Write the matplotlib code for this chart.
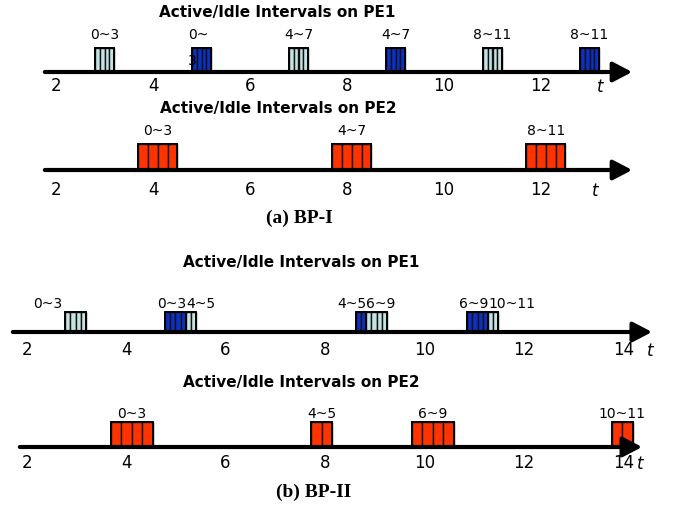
import matplotlib
matplotlib.use('Agg')
import matplotlib.pyplot as plt

# (a) BP-I
a_pe1_start = [2.8, 4.8, 6.8, 8.8, 10.8, 12.8]
a_pe1_count = [4, 4, 4, 4, 4, 4]
a_pe1_kind = ['idle', 'active', 'idle', 'active', 'idle', 'active']
a_pe1_label = ['0~3', '0~\n3', '4~7', '4~7', '8~11', '8~11']

a_pe2_start = [3.7, 7.7, 11.7]
a_pe2_count = [4, 4, 4]
a_pe2_kind = ['busy', 'busy', 'busy']
a_pe2_label = ['0~3', '4~7', '8~11']

a_ticks = [2, 4, 6, 8, 10, 12]

# (b) BP-II
b_pe1_start = [2.77, 4.78, 5.20, 8.62, 8.83, 10.86, 11.28]
b_pe1_count = [4, 4, 2, 2, 4, 4, 2]
b_pe1_kind = ['idle', 'active', 'idle', 'active', 'idle', 'active', 'idle']
b_pe1_label = ['0~3', '0~3', '4~5', '4~5', '6~9', '6~9', '10~11']
b_pe1_ha = ['right', 'right', 'left', 'right', 'left', 'right', 'left']

b_pe2_start = [3.69, 7.72, 9.75, 13.77]
b_pe2_count = [4, 2, 4, 2]
b_pe2_kind = ['busy', 'busy', 'busy', 'busy']
b_pe2_label = ['0~3', '4~5', '6~9', '10~11']

b_ticks = [2, 4, 6, 8, 10, 12, 14]

colores = {'idle': '#c6e3e3', 'active': '#0c2fc4', 'busy': '#ff3300'}

W, H = 678, 514


def dibujar_eje(ax, t0, t1, y, ticks, t_label, y_ticks):
    ax.annotate('', xy=(t1, y), xytext=(t0, y),
                arrowprops=dict(arrowstyle='-|>,head_length=1.15,head_width=0.6',
                                lw=3, color='black', mutation_scale=10,
                                shrinkA=0, shrinkB=0), zorder=5)
    for t in ticks:
        ax.text(t, y_ticks, str(t), ha='center', va='center', fontsize=12)
    ax.text(t_label, y_ticks + 1, 't', ha='center', va='center', fontsize=12, style='italic')


def dibujar_bloques(ax, starts, counts, kinds, y, alto, w):
    for s, n, k in zip(starts, counts, kinds):
        xs = [s + i * w for i in range(n)]
        ax.bar(xs, [-alto] * n, width=w, bottom=y, align='edge',
               color=colores[k], edgecolor='#111111', linewidth=1.0, zorder=3)
        ax.bar([s], [-alto], width=n * w, bottom=y, align='edge',
               fill=False, edgecolor='black', linewidth=1.4, zorder=4)


def etiquetas_centradas(ax, starts, counts, labels, y, w):
    for s, n, lab in zip(starts, counts, labels):
        lineas = lab.split('\n')
        if len(lineas) == 1:
            ax.text(s + n * w / 2, y, lab, ha='center', va='baseline', fontsize=10)
        else:
            for j, l in enumerate(lineas):
                ax.text(s - 0.08, y + 26 * j, l, ha='left', va='baseline', fontsize=10, zorder=6)


def etiquetas_pegadas(ax, starts, counts, labels, has, y, w):
    for i, (s, n, lab, ha) in enumerate(zip(starts, counts, labels, has)):
        fin = s + n * w
        if ha == 'left':
            x = s
        else:
            junto = i + 1 < len(starts) and abs(starts[i + 1] - fin) < 1e-6
            x = fin if junto else s - 0.06
        ax.text(x, y, lab, ha=ha, va='baseline', fontsize=10)


def fig_text(x, y, s, **kw):
    plt.gcf().text(x / W, 1 - y / H, s, ha='center', va='center', **kw)


def main():
    fig = plt.figure(figsize=(6.78, 5.14), dpi=100)

    # eje de tiempo de (a): px = 298.5 + 48.5 (t - 7)
    ax_a = fig.add_axes([0, 0, 1, 1])
    ax_a.set_xlim(7 - 298.5 / 48.5, 7 + (W - 298.5) / 48.5)
    ax_a.set_ylim(H, 0)
    ax_a.axis('off')

    # eje de tiempo de (b): px = 325 + 49.7 (t - 8)
    ax_b = fig.add_axes([0, 0, 1, 1])
    ax_b.set_xlim(8 - 325 / 49.7, 8 + (W - 325) / 49.7)
    ax_b.set_ylim(H, 0)
    ax_b.axis('off')

    titulo = dict(fontsize=11, fontweight='bold')

    # (a) PE1
    fig_text(277, 12, 'Active/Idle Intervals on PE1', **titulo)
    dibujar_bloques(ax_a, a_pe1_start, a_pe1_count, a_pe1_kind, 72, 24, 0.1)
    etiquetas_centradas(ax_a, a_pe1_start, a_pe1_count, a_pe1_label, 39, 0.1)
    dibujar_eje(ax_a, 1.77, 13.88, 72, a_ticks, 13.22, 86)

    # (a) PE2
    fig_text(278, 108, 'Active/Idle Intervals on PE2', **titulo)
    dibujar_bloques(ax_a, a_pe2_start, a_pe2_count, a_pe2_kind, 170, 26, 0.2)
    etiquetas_centradas(ax_a, a_pe2_start, a_pe2_count, a_pe2_label, 135, 0.2)
    dibujar_eje(ax_a, 1.77, 13.88, 170, a_ticks, 13.11, 190)

    fig_text(299, 218, '(a) BP-I', fontsize=14, fontweight='bold', family='Liberation Serif')

    # (b) PE1
    fig_text(301, 262, 'Active/Idle Intervals on PE1', **titulo)
    dibujar_bloques(ax_b, b_pe1_start, b_pe1_count, b_pe1_kind, 332, 20, 0.105)
    etiquetas_pegadas(ax_b, b_pe1_start, b_pe1_count, b_pe1_label, b_pe1_ha, 308, 0.105)
    dibujar_eje(ax_b, 1.72, 14.58, 332, b_ticks, 14.54, 350)

    # (b) PE2
    fig_text(301, 383, 'Active/Idle Intervals on PE2', **titulo)
    dibujar_bloques(ax_b, b_pe2_start, b_pe2_count, b_pe2_kind, 447, 25, 0.21)
    etiquetas_centradas(ax_b, b_pe2_start, b_pe2_count, b_pe2_label, 418, 0.21)
    dibujar_eje(ax_b, 1.86, 14.38, 447, b_ticks, 14.34, 463)

    fig_text(314, 492, '(b) BP-II', fontsize=14, fontweight='bold', family='Liberation Serif')

    fig.savefig('out.png', dpi=100)


if __name__ == '__main__':
    main()
